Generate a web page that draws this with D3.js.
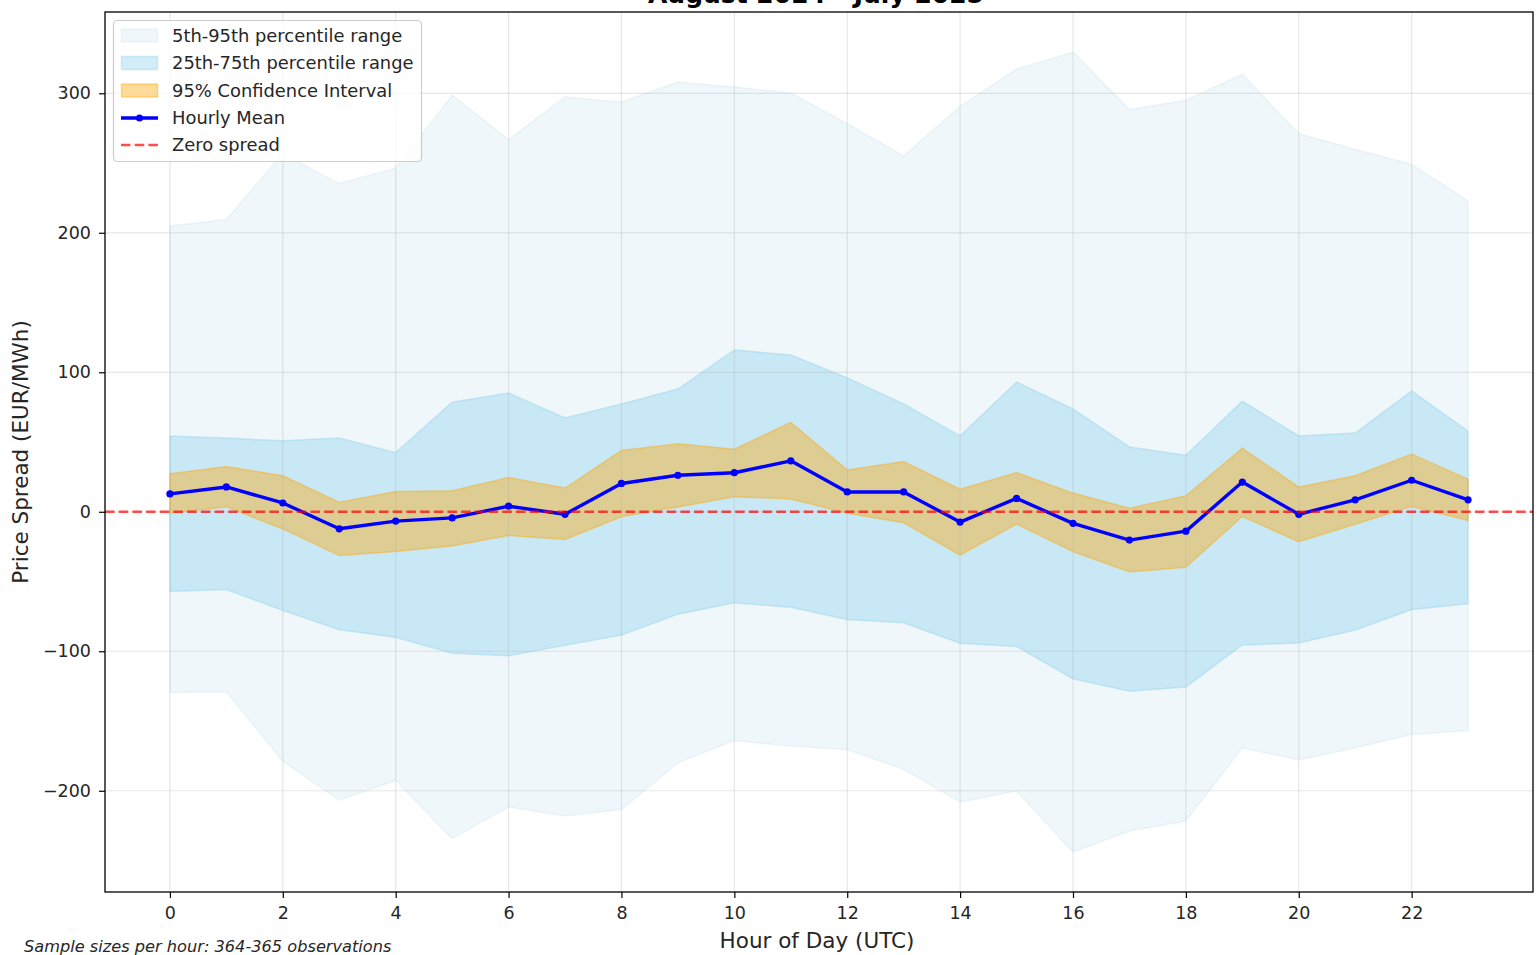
<!DOCTYPE html>
<html>
<head>
<meta charset="utf-8">
<script src="https://cdn.jsdelivr.net/npm/d3@7"></script>
<style>
  html, body { margin: 0; padding: 0; background: #fff; }
  svg { display: block; font-family: "DejaVu Sans", sans-serif; }
</style>
</head>
<body>
<svg id="chart" width="1537" height="955"></svg>
<script>
// ---- Data ----
const hours = [0,1,2,3,4,5,6,7,8,9,10,11,12,13,14,15,16,17,18,19,20,21,22,23];
const hourlyMean = [12.8, 17.8, 6.3, -12.2, -6.7, -4.4, 4.0, -1.8, 20.3, 26.2, 28.0, 36.5, 14.2, 14.2, -7.4, 9.6, -8.3, -20.3, -13.9, 21.3, -1.8, 8.6, 22.6, 8.6];
const ciLower = [-1.0, 3.5, -12.3, -31.4, -28.5, -24.5, -17.0, -19.8, -3.6, 3.5, 10.8, 9.2, -1.0, -7.9, -31.0, -8.8, -28.6, -43.2, -39.8, -3.4, -21.5, -9.0, 3.8, -6.2];
const ciUpper = [27.2, 32.4, 25.8, 6.9, 14.5, 15.0, 24.6, 17.0, 43.9, 48.7, 44.9, 64.0, 30.0, 36.0, 16.2, 28.1, 13.4, 2.6, 11.5, 45.6, 17.7, 25.8, 41.3, 23.4];
const p25 = [-57.2, -55.8, -70.7, -84.5, -90.0, -101.5, -103.3, -95.7, -88.4, -73.4, -65.2, -68.5, -77.3, -79.6, -94.2, -96.5, -119.7, -128.6, -125.6, -95.5, -94.0, -84.8, -70.1, -66.0];
const p75 = [54.4, 52.8, 50.9, 52.8, 42.4, 78.5, 85.2, 67.3, 77.3, 88.0, 116.0, 112.4, 96.0, 77.3, 54.4, 93.0, 73.7, 46.5, 40.5, 79.2, 54.4, 56.4, 86.6, 57.8];
const p5 = [-129.5, -129.1, -178.8, -206.7, -192.6, -234.3, -211.7, -218.1, -213.4, -180.0, -164.0, -168.0, -170.4, -184.7, -208.1, -200.2, -243.9, -228.9, -221.7, -169.2, -178.0, -169.2, -159.7, -156.8];
const p95 = [204.8, 209.5, 256.8, 235.3, 246.5, 298.6, 266.8, 297.4, 293.8, 308.1, 304.5, 300.2, 278.3, 255.1, 290.7, 317.2, 329.6, 288.3, 295.0, 313.6, 271.1, 259.9, 249.2, 222.7];
const xTicks = [0,2,4,6,8,10,12,14,16,18,20,22];
const yTicks = [-200,-100,0,100,200,300];
const titleText = "August 2024 - July 2025";
const xLabel = "Hour of Day (UTC)";
const yLabel = "Price Spread (EUR/MWh)";
const footnote = "Sample sizes per hour: 364-365 observations";
const legendLabels = ["5th-95th percentile range", "25th-75th percentile range", "95% Confidence Interval", "Hourly Mean", "Zero spread"];

// ---- Layout ----
const svg = d3.select("#chart");
const L = 105, R = 1533, T = 12, B = 892;

const xExt = d3.extent(hours), xPad = (xExt[1] - xExt[0]) * 0.05;
const x = d3.scaleLinear().domain([xExt[0] - xPad, xExt[1] + xPad]).range([L, R]);
const yMin = d3.min(p5), yMax = d3.max(p95), yPad = (yMax - yMin) * 0.05;
const y = d3.scaleLinear().domain([yMin - yPad, yMax + yPad]).range([B, T]);

const rows = hours.map((h, i) => ({h, m: hourlyMean[i], cl: ciLower[i], cu: ciUpper[i], q1: p25[i], q3: p75[i], lo: p5[i], hi: p95[i]}));

const area = (lo, hi) => d3.area().x(d => x(d.h)).y0(d => y(d[lo])).y1(d => y(d[hi]));

const plot = svg.append("g");

// 5th-95th
plot.append("path").datum(rows).attr("d", area("lo", "hi"))
  .attr("fill", "lightblue").attr("fill-opacity", 0.2)
  .attr("stroke", "lightblue").attr("stroke-opacity", 0.2).attr("stroke-width", 1.5);
// 25th-75th
plot.append("path").datum(rows).attr("d", area("q1", "q3"))
  .attr("fill", "skyblue").attr("fill-opacity", 0.37)
  .attr("stroke", "skyblue").attr("stroke-opacity", 0.37).attr("stroke-width", 1.5);
// CI
plot.append("path").datum(rows).attr("d", area("cl", "cu"))
  .attr("fill", "orange").attr("fill-opacity", 0.4)
  .attr("stroke", "orange").attr("stroke-opacity", 0.4).attr("stroke-width", 1.5);

// grid
const grid = svg.append("g");
grid.selectAll("line.gx").data(xTicks).enter().append("line")
  .attr("x1", d => x(d)).attr("x2", d => x(d)).attr("y1", T).attr("y2", B)
  .attr("stroke", "#b0b0b0").attr("stroke-opacity", 0.3).attr("stroke-width", 1.2);
grid.selectAll("line.gy").data(yTicks).enter().append("line")
  .attr("y1", d => y(d)).attr("y2", d => y(d)).attr("x1", L).attr("x2", R)
  .attr("stroke", "#b0b0b0").attr("stroke-opacity", 0.3).attr("stroke-width", 1.2);

// mean line
svg.append("path").datum(rows)
  .attr("d", d3.line().x(d => x(d.h)).y(d => y(d.m)))
  .attr("fill", "none").attr("stroke", "blue").attr("stroke-width", 3.4)
  .attr("stroke-linejoin", "round").attr("stroke-linecap", "square");
svg.selectAll("circle.mk").data(rows).enter().append("circle")
  .attr("cx", d => x(d.h)).attr("cy", d => y(d.m)).attr("r", 3.6).attr("fill", "blue");

// zero line
svg.append("line").attr("x1", L).attr("x2", R).attr("y1", y(0)).attr("y2", y(0))
  .attr("stroke", "red").attr("stroke-opacity", 0.7).attr("stroke-width", 2.4)
  .attr("stroke-dasharray", "9.5,4.2");

// axes
const xAxis = d3.axisBottom(x).tickValues(xTicks).tickSize(6).tickPadding(8).tickFormat(d3.format("d"));
const yAxis = d3.axisLeft(y).tickValues(yTicks).tickSize(6).tickPadding(8).tickFormat(d3.format("d"));
const gx = svg.append("g").attr("transform", `translate(0,${B})`).call(xAxis);
const gy = svg.append("g").attr("transform", `translate(${L},0)`).call(yAxis);
[gx, gy].forEach(g => {
  g.select(".domain").remove();
  g.selectAll(".tick line").attr("stroke", "#000").attr("stroke-width", 1.2);
  g.selectAll(".tick text").attr("fill", "#262626").attr("font-size", 17.5).attr("font-family", "DejaVu Sans");
});
gx.selectAll(".tick text").attr("dy", "0.75em");

// frame
svg.append("rect").attr("x", L).attr("y", T).attr("width", R - L).attr("height", B - T)
  .attr("fill", "none").attr("stroke", "#000").attr("stroke-width", 1.3);

// labels
svg.append("text").attr("x", (L + R) / 2 - 2).attr("y", 948).attr("text-anchor", "middle")
  .attr("font-size", 21.5).attr("fill", "#262626").text(xLabel);
svg.append("text").attr("transform", `translate(28,${(T + B) / 2}) rotate(-90)`).attr("text-anchor", "middle")
  .attr("font-size", 21.5).attr("fill", "#262626").text(yLabel);
svg.append("text").attr("x", (L + R) / 2 - 3).attr("y", 3).attr("text-anchor", "middle")
  .attr("font-size", 25).attr("font-weight", "bold").attr("fill", "#000").text(titleText);
svg.append("text").attr("x", 24).attr("y", 952).attr("font-size", 16.2).attr("font-style", "italic")
  .attr("fill", "#262626").text(footnote);

// legend
const lg = svg.append("g");
lg.append("rect").attr("x", 113.5).attr("y", 20.5).attr("width", 308).attr("height", 141).attr("rx", 4)
  .attr("fill", "#fff").attr("fill-opacity", 0.8).attr("stroke", "#cccccc").attr("stroke-width", 1.2);
const legY = [35.5, 63, 90.5, 118, 145];
const sw = [
  {fill: "lightblue", op: 0.2},
  {fill: "skyblue", op: 0.37},
  {fill: "orange", op: 0.4}
];
sw.forEach((s, i) => {
  lg.append("rect").attr("x", 121.5).attr("y", legY[i] - 6.5).attr("width", 36).attr("height", 13)
    .attr("fill", s.fill).attr("fill-opacity", s.op)
    .attr("stroke", s.fill).attr("stroke-opacity", s.op).attr("stroke-width", 1.5);
});
lg.append("line").attr("x1", 121).attr("x2", 158).attr("y1", legY[3]).attr("y2", legY[3])
  .attr("stroke", "blue").attr("stroke-width", 3.4);
lg.append("circle").attr("cx", 139.5).attr("cy", legY[3]).attr("r", 3.6).attr("fill", "blue");
lg.append("line").attr("x1", 121).attr("x2", 158).attr("y1", legY[4]).attr("y2", legY[4])
  .attr("stroke", "red").attr("stroke-opacity", 0.7).attr("stroke-width", 2.4).attr("stroke-dasharray", "9.5,4.2");
legendLabels.forEach((t, i) => {
  lg.append("text").attr("x", 172).attr("y", legY[i]).attr("dy", "0.36em")
    .attr("font-size", 17.9).attr("fill", "#262626").text(t);
});
</script>
</body>
</html>
